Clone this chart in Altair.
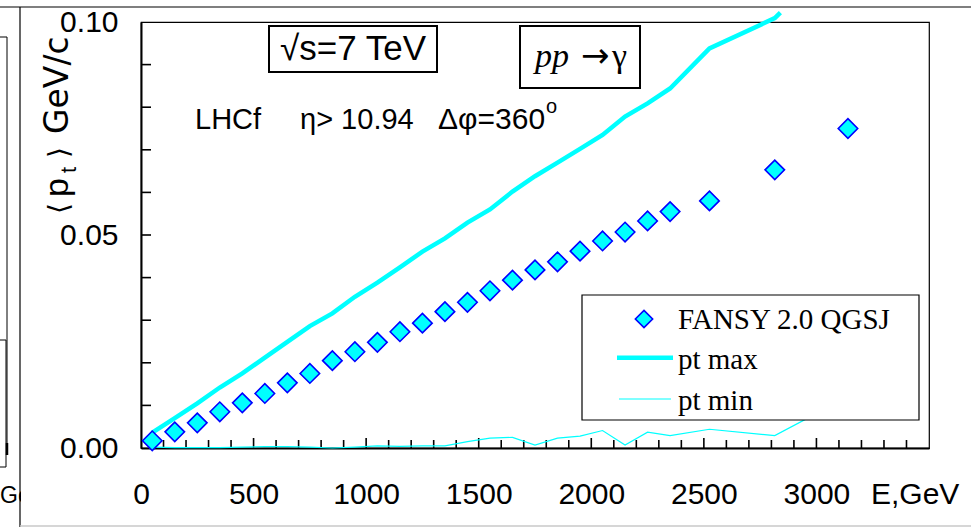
import altair as alt
import pandas as pd

# ---------------- data ----------------
E_fansy = [50, 150, 250, 350, 450, 550, 650, 750, 850, 950, 1050, 1150, 1250, 1350,
           1450, 1550, 1650, 1750, 1850, 1950, 2050, 2150, 2250, 2350, 2525, 2815, 3140]
pt_fansy = [0.0017, 0.0038, 0.0059, 0.0085, 0.0106, 0.0128, 0.0153, 0.0175, 0.0205,
            0.0226, 0.0248, 0.0273, 0.0293, 0.0320, 0.0342, 0.0369, 0.0394, 0.0418,
            0.0437, 0.0462, 0.0486, 0.0507, 0.0533, 0.0555, 0.0580, 0.0653, 0.0750]

E_max = [50, 150, 250, 350, 450, 550, 650, 750, 850, 950, 1050, 1150, 1250, 1350,
         1450, 1550, 1650, 1750, 1850, 1950, 2050, 2150, 2250, 2350, 2525, 2815, 2840]
pt_max = [0.0036, 0.0070, 0.0105, 0.0142, 0.0175, 0.0212, 0.0249, 0.0286, 0.0316,
          0.0355, 0.0388, 0.0424, 0.0461, 0.0492, 0.0529, 0.0560, 0.0602, 0.0638,
          0.0670, 0.0702, 0.0735, 0.0778, 0.0809, 0.0844, 0.0938, 0.1009, 0.1022]

E_min = [50, 150, 250, 350, 450, 550, 650, 750, 850, 950, 1050, 1150, 1250, 1350,
         1450, 1550, 1650, 1750, 1850, 1950, 2050, 2150, 2250, 2350, 2525, 2815, 3140]
pt_min = [0.0002, 0.0001, 0.0001, 0.0001, 0.0002, 0.0003, 0.0003, 0.0002, 0.0000,
          0.0002, 0.0005, 0.0004, 0.0005, 0.0005, 0.0015, 0.0023, 0.0025, 0.0007,
          0.0023, 0.0028, 0.0041, 0.0007, 0.0037, 0.0029, 0.0044, 0.0029, 0.0120]

x_labels = [0, 500, 1000, 1500, 2000, 2500, 3000]
x_major_ticks = [500, 1000, 1500, 2000, 2500, 3000]
x_minor_ticks = [100, 200, 300, 400, 600, 700, 800, 900, 1100, 1200, 1300, 1400,
                 1600, 1700, 1800, 1900, 2100, 2200, 2300, 2400, 2600, 2700, 2800,
                 2900, 3100, 3200, 3300, 3400]
y_labels = [0.0, 0.05, 0.10]
y_ticks = [0.01, 0.02, 0.03, 0.04, 0.05, 0.06, 0.07, 0.08, 0.09]

series_names = ["FANSY 2.0 QGSJ", "pt max", "pt min"]

# ---------------- layout ----------------
PL, PT = 141, 22          # plot origin in page pixels
W, H = 788, 426
CYAN = "#00FFFF"
BLUE = "#0000FF"
SANS = "Liberation Sans"
SERIF = "Liberation Serif"

xs = alt.Scale(domain=[0, 3500], nice=False, zero=False)
ys = alt.Scale(domain=[0, 0.1], nice=False, zero=False)
xaxis = alt.Axis(values=x_labels, format="d", title=None, labelPadding=31,
                 labelFlush=False, labelOverlap=False, ticks=False, tickSize=0, grid=False)
yaxis = alt.Axis(values=y_labels, format=".2f", title=None, labelPadding=23,
                 labelFlush=False, labelOverlap=False, ticks=False, tickSize=0, grid=False)

dummy = pd.DataFrame({"k": [0]})


def px(v):
    return v - PL


def py(v):
    return v - PT


def rule(x1, y1, x2, y2, color="black", width=1.0):
    return alt.Chart(dummy).mark_rule(color=color, strokeWidth=width).encode(
        x=alt.value(px(x1)), x2=alt.value(px(x2)), y=alt.value(py(y1)), y2=alt.value(py(y2)))


def box(x1, y1, x2, y2, stroke="black", width=1.0, fill="white"):
    return alt.Chart(dummy).mark_rect(fill=fill, stroke=stroke, strokeWidth=width).encode(
        x=alt.value(px(x1)), x2=alt.value(px(x2)), y=alt.value(py(y1)), y2=alt.value(py(y2)))


def txt(s, x, y, size, font=SANS, align="left", angle=0, style="normal"):
    return alt.Chart(dummy).mark_text(
        text=s, align=align, baseline="alphabetic", font=font, fontSize=size,
        fontStyle=style, color="black", angle=angle).encode(
        x=alt.value(px(x)), y=alt.value(py(y)))


df_f = pd.DataFrame({"E": E_fansy, "pt": pt_fansy})
df_max = pd.DataFrame({"E": E_max, "pt": pt_max})
df_min = pd.DataFrame({"E": E_min, "pt": pt_min})

# ---------------- frame decorations ----------------
frame = [
    txt("Ge", 0, 503, 23, SANS),
    box(21, 470, 60, 512, stroke="white", width=0),
    rule(0, 7, 971, 7, "black", 1.2),
    rule(20, 7, 20, 527, "black", 1.2),
    rule(20, 526, 971, 526, "#c8c8c8", 1.5),
    rule(0, 37, 7, 37, "black", 1),
    rule(7, 37, 7, 455, "black", 1),
    rule(0, 340, 6, 340, "black", 1),
    rule(6, 340, 6, 467, "black", 1),
    rule(0, 467, 6, 467, "black", 1),
    rule(7, 443, 7, 455, "black", 2.5),
]

# ---------------- inward ticks ----------------
xt_major = alt.Chart(pd.DataFrame({"v": x_major_ticks})).mark_rule(
    color="black", strokeWidth=1.6).encode(
    x=alt.X("v:Q", scale=xs, axis=xaxis), y=alt.value(H), y2=alt.value(H - 10))
xt_minor = alt.Chart(pd.DataFrame({"v": x_minor_ticks})).mark_rule(
    color="black", strokeWidth=1.6).encode(
    x=alt.X("v:Q", scale=xs, axis=xaxis), y=alt.value(H), y2=alt.value(H - 8))
yt = alt.Chart(pd.DataFrame({"v": y_ticks})).mark_rule(
    color="black", strokeWidth=1.6).encode(
    y=alt.Y("v:Q", scale=ys, axis=yaxis), x=alt.value(0), x2=alt.value(10))

# ---------------- series ----------------
line_min = alt.Chart(df_min).mark_line(color=CYAN, strokeWidth=1.2).encode(
    x=alt.X("E:Q", scale=xs, axis=xaxis), y=alt.Y("pt:Q", scale=ys, axis=yaxis))
line_max = alt.Chart(df_max).mark_line(color=CYAN, strokeWidth=4.5).encode(
    x=alt.X("E:Q", scale=xs, axis=xaxis), y=alt.Y("pt:Q", scale=ys, axis=yaxis))
pts = alt.Chart(df_f).mark_point(shape="diamond", filled=True, fill=CYAN, stroke=BLUE,
                                 strokeWidth=1.6, size=380, opacity=1).encode(
    x=alt.X("E:Q", scale=xs, axis=xaxis), y=alt.Y("pt:Q", scale=ys, axis=yaxis))

# ---------------- legend (drawn by hand, inside the plot) ----------------
legend = [
    box(582, 295, 919, 420, stroke="black", width=1.2),
    alt.Chart(dummy).mark_point(shape="diamond", filled=True, fill=CYAN, stroke=BLUE,
                                strokeWidth=1.6, size=300, opacity=1).encode(
        x=alt.value(px(644)), y=alt.value(py(319))),
    rule(617, 357.7, 673, 357.7, CYAN, 4.5),
    rule(619, 399, 671, 399, CYAN, 1.2),
    txt(series_names[0], 678, 329, 29, SERIF),
    txt(series_names[1], 678, 369, 29, SERIF),
    txt(series_names[2], 678, 410, 29, SERIF),
]

# ---------------- annotations ----------------
annot = [
    box(269, 26, 437, 72, stroke="black", width=2),
    txt("\u221as=7 TeV", 353, 60, 35, SANS, align="center"),
    box(520, 26, 640, 88, stroke="black", width=2),
    txt("pp", 535, 67, 34, SERIF, style="italic"),
    txt("\u2192", 581, 67, 34, "DejaVu Sans"),
    txt("\u03b3", 612, 67, 34, SERIF),
    txt("LHCf", 195, 129, 29),
    txt("\u03b7> 10.94", 300, 129, 29),
    txt("\u0394\u03c6=360", 438, 129, 30),
    txt("o", 546, 113, 20),
    txt("E,GeV", 871, 504, 30),
    # rotated y-axis title  < p_t > GeV/c
    txt("\u27e8", 68, 214, 28, "DejaVu Sans", angle=270),
    txt("p", 68, 197, 34, SANS, angle=270),
    txt("t", 76, 173, 22, SANS, angle=270),
    txt("\u27e9", 68, 158, 28, "DejaVu Sans", angle=270),
    txt("GeV/c", 68, 134, 33, "DejaVu Sans", angle=270),
]

chart = alt.layer(
    *frame, xt_major, xt_minor, yt, line_min, *legend[:1], line_max, pts,
    *legend[1:], *annot
).properties(
    width=W, height=H,
    padding={"left": PL, "top": PT, "right": 971 - PL - W, "bottom": 527 - PT - H},
    autosize=alt.AutoSizeParams(type="none"),
    background="white",
).configure_view(
    stroke="black", strokeWidth=1.2
).configure_axis(
    domainColor="black", domainWidth=2, labelFont=SANS, labelFontSize=30,
    labelColor="black", grid=False
)

chart.save("out.html", embed_options={"renderer": "svg", "actions": False})
